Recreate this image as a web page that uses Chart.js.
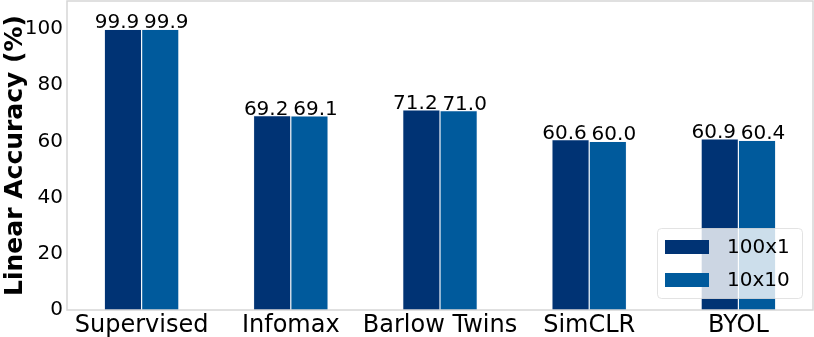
<!DOCTYPE html>
<html>
<head>
<meta charset="utf-8">
<script src="https://cdn.jsdelivr.net/npm/chart.js@4"></script>
<style>
  html, body { margin: 0; padding: 0; background: #fff; }
  #wrap { width: 814px; height: 337px; }
</style>
</head>
<body>
<div id="wrap"><canvas id="accChart" width="814" height="337"></canvas></div>
<script>
const methods = ['Supervised', 'Infomax', 'Barlow Twins', 'SimCLR', 'BYOL'];
const acc100x1 = [99.9, 69.2, 71.2, 60.6, 60.9];
const acc10x10 = [99.9, 69.1, 71.0, 60.0, 60.4];
const seriesNames = ['100x1', '10x10'];
const yTicks = [0, 20, 40, 60, 80, 100];

const FONT = "'DejaVu Sans', sans-serif";

// value labels on top of each bar, pushed a bit apart like the original
const valueLabels = {
    id: 'valueLabels',
    afterDatasetsDraw(chart) {
        const c = chart.ctx;
        c.save();
        c.font = '20px ' + FONT;
        c.fillStyle = '#000';
        c.textAlign = 'center';
        c.textBaseline = 'alphabetic';
        chart.data.datasets.forEach((ds, i) => {
            const shift = i === 0 ? -6 : 6;
            chart.getDatasetMeta(i).data.forEach((bar, j) => {
                c.fillText(ds.data[j].toFixed(1), bar.x + shift, bar.y - 1);
            });
        });
        c.restore();
    }
};

// frame + legend box in the lower right corner
const frameAndLegend = {
    id: 'frameAndLegend',
    afterDraw(chart) {
        const c = chart.ctx;
        const a = chart.chartArea;
        c.save();
        c.strokeStyle = '#d6d6d6';
        c.lineWidth = 1.5;
        c.strokeRect(a.left, a.top, a.right - a.left, a.bottom - a.top);

        const bx = a.right - 156, by = a.bottom - 82, bw = 145, bh = 70;
        c.fillStyle = 'rgba(255,255,255,0.8)';
        c.strokeStyle = 'rgba(220,220,220,0.8)';
        c.lineWidth = 1;
        c.beginPath();
        c.roundRect(bx + 0.5, by + 0.5, bw, bh, 4);
        c.fill();
        c.stroke();

        c.font = '20px ' + FONT;
        c.textBaseline = 'middle';
        c.textAlign = 'left';
        chart.data.datasets.forEach((ds, i) => {
            const y = by + 19 + i * 33;
            c.fillStyle = ds.backgroundColor;
            c.fillRect(bx + 8, y - 7, 44, 14);
            c.fillStyle = '#000';
            c.fillText(ds.label, bx + 70, y + 1);
        });
        c.restore();
    }
};

const ctx = document.getElementById('accChart').getContext('2d');
new Chart(ctx, {
    type: 'bar',
    data: {
        labels: methods,
        datasets: [
            { label: seriesNames[0], data: acc100x1, backgroundColor: '#003374',
              borderColor: 'rgba(220,230,242,0.55)', borderWidth: 0.6 },
            { label: seriesNames[1], data: acc10x10, backgroundColor: '#005a9c',
              borderColor: 'rgba(220,230,242,0.55)', borderWidth: 0.6 }
        ]
    },
    options: {
        responsive: false,
        animation: false,
        layout: { padding: { top: 1, right: 1, left: 0, bottom: 0 } },
        datasets: {
            bar: { categoryPercentage: 0.5, barPercentage: 1.0 }
        },
        scales: {
            x: {
                grid: { display: false, drawTicks: false },
                border: { display: false },
                ticks: {
                    color: '#000',
                    font: { family: FONT, size: 24 },
                    padding: 1,
                    maxRotation: 0,
                    minRotation: 0,
                    autoSkip: false
                },
                afterFit(scale) {
                    scale.height = 27;
                    scale.paddingLeft = 0;
                    scale.paddingRight = 0;
                }
            },
            y: {
                min: 0,
                max: 110,
                grid: { display: false, drawTicks: false },
                border: { display: false },
                afterBuildTicks(scale) {
                    scale.ticks = yTicks.map(v => ({ value: v }));
                },
                ticks: { color: '#000', font: { family: FONT, size: 20 }, padding: 4 },
                title: {
                    display: true,
                    text: 'Linear Accuracy (%)',
                    color: '#000',
                    font: { family: FONT, size: 25, weight: 'bold' },
                    padding: { top: 0, bottom: 0 }
                },
                afterFit(scale) {
                    scale.width = 67;
                    scale.paddingTop = 0;
                    scale.paddingBottom = 0;
                }
            }
        },
        plugins: {
            legend: { display: false },
            tooltip: { enabled: false }
        }
    },
    plugins: [valueLabels, frameAndLegend]
});
</script>
</body>
</html>
